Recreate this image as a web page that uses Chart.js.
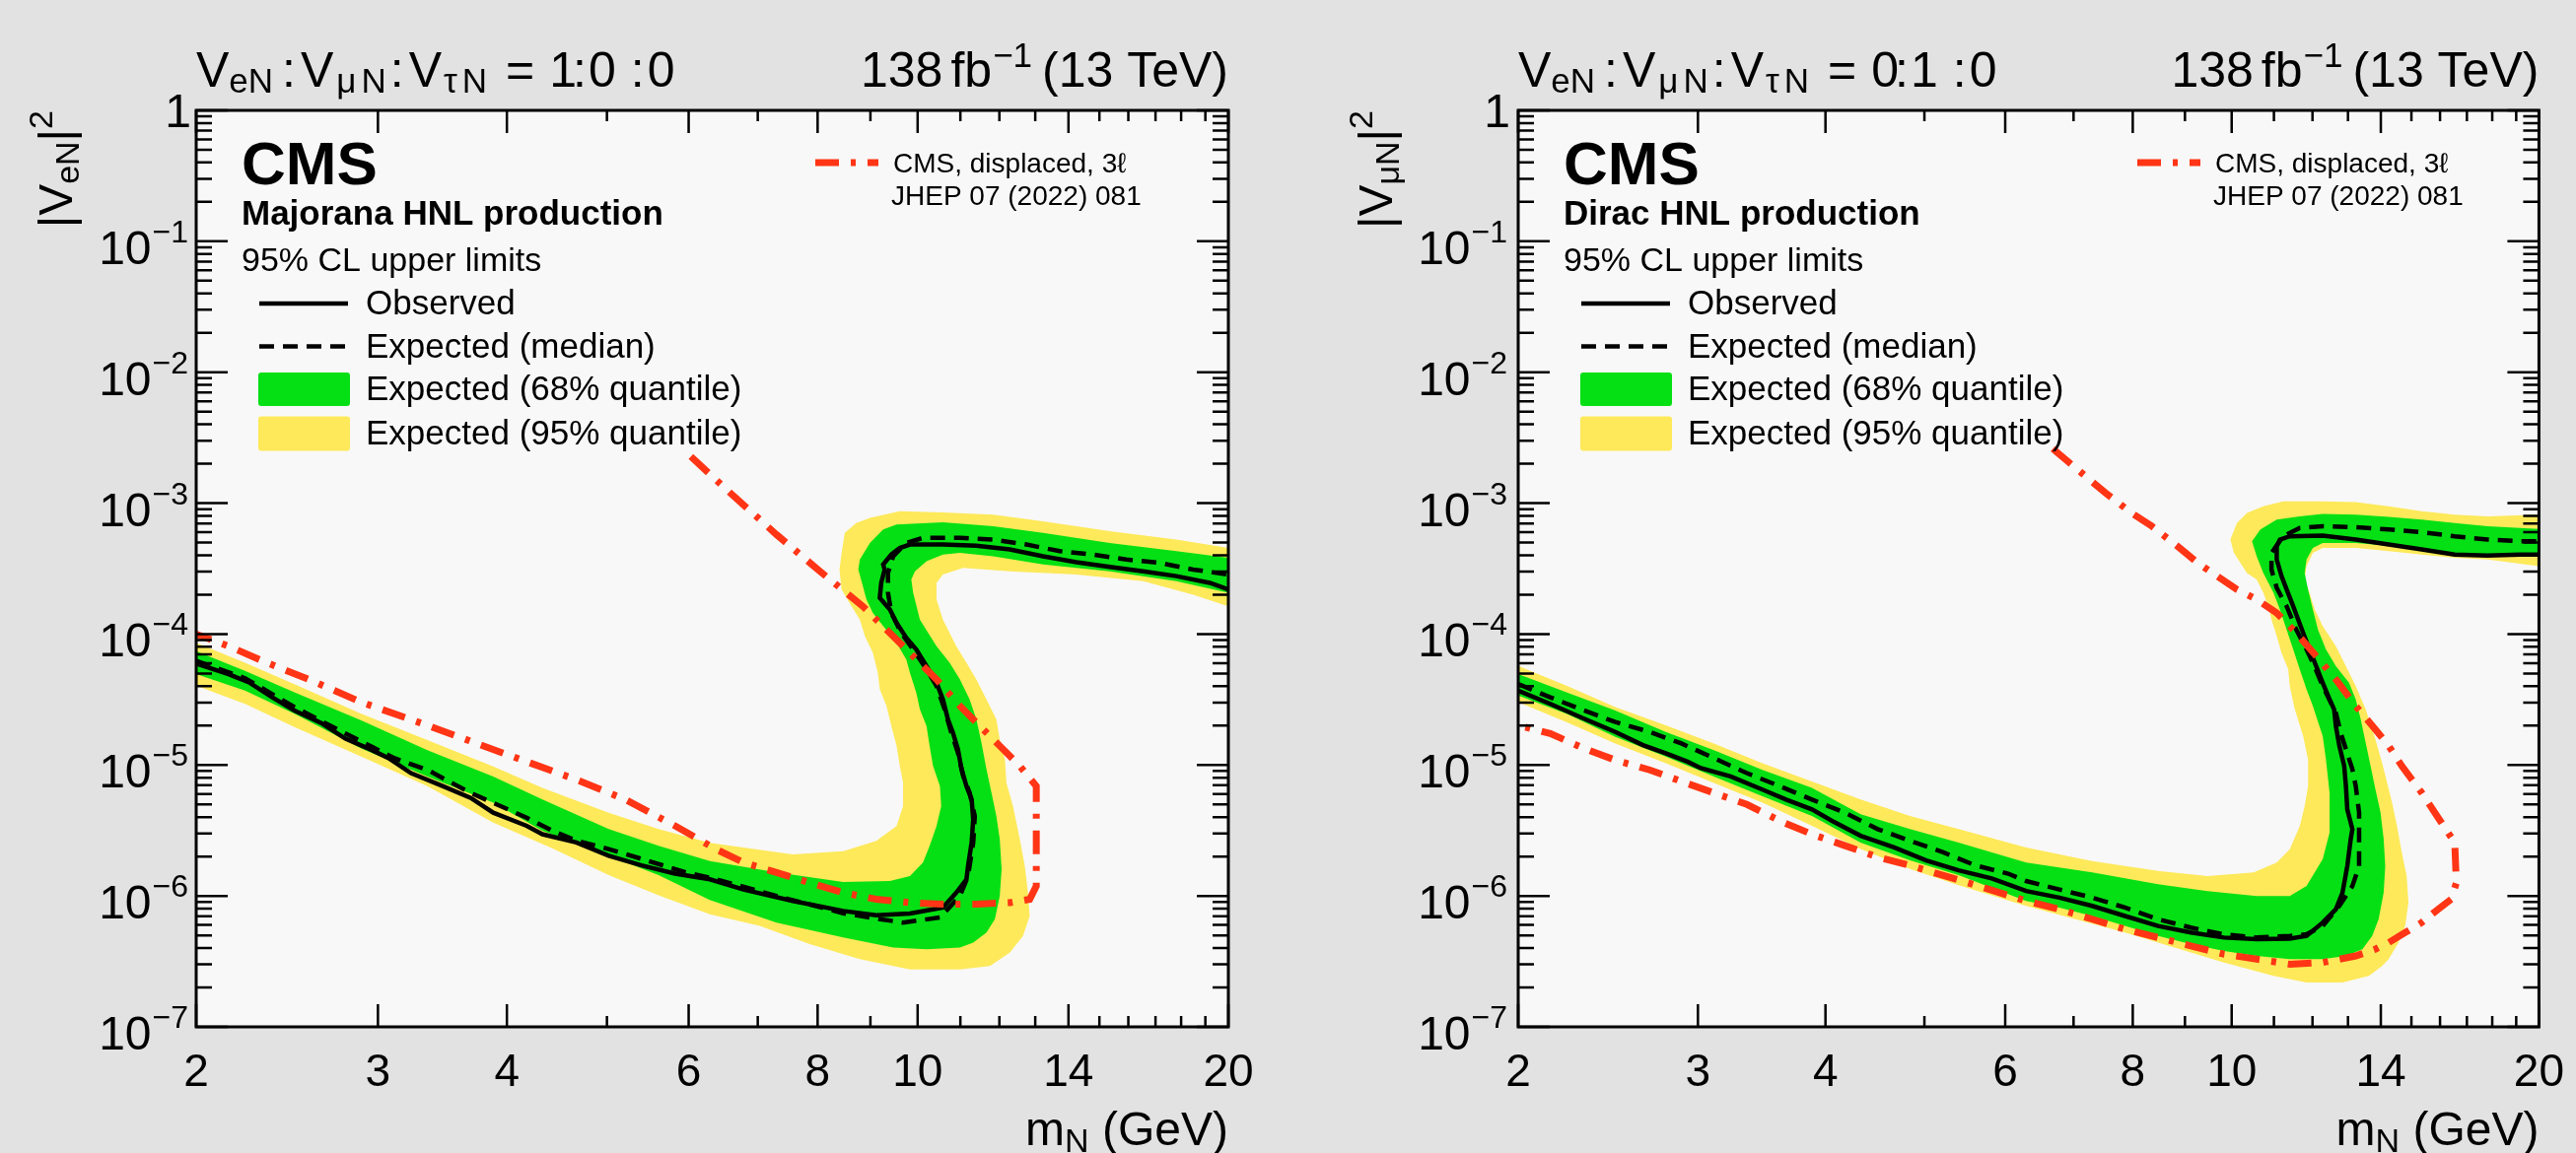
<!DOCTYPE html>
<html>
<head>
<meta charset="utf-8">
<title>HNL mixing limits</title>
<script src="https://cdn.jsdelivr.net/npm/chart.js@4.4.1/dist/chart.umd.min.js"></script>
<style>
  html, body { margin: 0; padding: 0; }
  body { width: 2613px; height: 1170px; background: #e2e2e2; overflow: hidden; position: relative; }
  canvas { position: absolute; top: 0; }
  #left { left: 0; }
  #right { left: 1306px; }
</style>
</head>
<body>
<canvas id="left" width="1306" height="1170"></canvas>
<canvas id="right" width="1307" height="1170"></canvas>
<script>
// axis ticks
const xMajorTicks = [2, 3, 4, 6, 8, 10, 14, 20]
const xMinorTicks = [5, 7, 9, 11, 12, 13, 15, 16, 17, 18, 19]
const yDecades = [0, -1, -2, -3, -4, -5, -6, -7]

// ---- left: VeN:VmuN:VtauN = 1:0:0, Majorana ----
const majObsMass = [2.00, 2.15, 2.25, 2.37, 2.49, 2.65, 2.79, 2.96, 3.07, 3.23, 3.47, 3.69, 3.88, 4.18, 4.33, 4.67, 5.02, 5.40, 5.82, 6.29, 6.78, 7.57, 8.47, 9.12, 9.83, 10.58, 10.90, 11.15, 11.19, 11.28, 11.32, 11.28, 11.15, 11.03, 10.94, 10.82, 10.70, 10.58, 10.43, 10.20, 9.97, 9.75, 9.54, 9.40, 9.19, 9.22, 9.29, 9.26, 9.43, 9.61, 9.83, 10.58, 11.40, 12.28, 13.23, 14.25, 15.35, 16.54, 17.81, 19.19, 20.0]
const majObsCoupling = [5.94e-5, 4.94e-5, 4.28e-5, 3.29e-5, 2.61e-5, 2.07e-5, 1.59e-5, 1.30e-5, 1.13e-5, 8.67e-6, 6.88e-6, 5.61e-6, 4.32e-6, 3.43e-6, 2.96e-6, 2.56e-6, 2.03e-6, 1.71e-6, 1.48e-6, 1.34e-6, 1.12e-6, 9.16e-7, 7.68e-7, 7.11e-7, 7.33e-7, 8.15e-7, 1.06e-6, 1.34e-6, 1.69e-6, 2.55e-6, 3.85e-6, 5.47e-6, 6.90e-6, 9.27e-6, 1.32e-5, 1.76e-5, 2.23e-5, 3.17e-5, 4.25e-5, 5.69e-5, 7.63e-5, 9.36e-5, 1.22e-4, 1.54e-4, 1.89e-4, 2.46e-4, 3.11e-4, 3.40e-4, 4.05e-4, 4.55e-4, 4.83e-4, 4.83e-4, 4.74e-4, 4.43e-4, 3.93e-4, 3.54e-4, 3.26e-4, 3.02e-4, 2.77e-4, 2.46e-4, 2.19e-4]

const majExpMass = [2.00, 2.23, 2.49, 2.79, 2.96, 3.11, 3.35, 3.69, 4.18, 4.43, 4.67, 5.02, 5.40, 5.95, 6.29, 7.30, 8.47, 9.12, 9.68, 10.51, 10.99, 11.19, 11.32, 11.36, 11.23, 11.07, 10.94, 10.78, 10.62, 10.43, 10.20, 9.90, 9.64, 9.43, 9.36, 9.36, 9.47, 9.75, 10.12, 10.99, 11.84, 12.75, 13.73, 14.79, 15.93, 17.16, 18.49, 20.0]
const majExpCoupling = [6.23e-5, 4.6e-5, 2.77e-5, 1.74e-5, 1.38e-5, 1.13e-5, 9.18e-6, 6.12e-6, 3.96e-6, 3.14e-6, 2.64e-6, 2.28e-6, 1.92e-6, 1.52e-6, 1.38e-6, 1.00e-6, 7.38e-7, 6.71e-7, 6.26e-7, 6.84e-7, 1.00e-6, 1.42e-6, 2.55e-6, 4.07e-6, 6.15e-6, 8.24e-6, 1.24e-5, 1.76e-5, 2.66e-5, 4.01e-5, 5.37e-5, 7.63e-5, 1.02e-4, 1.45e-4, 2.07e-4, 2.93e-4, 3.93e-4, 4.97e-4, 5.43e-4, 5.43e-4, 5.27e-4, 4.83e-4, 4.30e-4, 4.05e-4, 3.71e-4, 3.50e-4, 3.11e-4, 2.85e-4]

// bands: one edge from m=2 to m=20, then the other edge back
const maj68Mass = [2.00, 2.23, 2.49, 2.89, 3.35, 3.88, 4.33, 5.02, 5.61, 6.29, 7.30, 8.47, 9.40, 9.83, 10.12, 10.27, 10.43, 10.54, 10.51, 10.35, 10.27, 10.20, 10.05, 9.97, 9.83, 9.75, 9.54, 9.26, 9.05, 8.92, 8.85, 8.76, 8.79, 8.99, 9.26, 9.54, 10.58, 11.84, 13.23, 15.35, 17.81, 20.0,
  20.0, 17.81, 15.35, 13.23, 11.84, 10.99, 10.58, 10.20, 9.94, 9.86, 9.90, 10.05, 10.43, 10.74, 10.99, 11.23, 11.40, 11.53, 11.66, 11.79, 11.92, 12.01, 12.06, 12.01, 11.88, 11.66, 11.32, 10.99, 10.20, 9.47, 8.47, 7.30, 6.29, 5.61, 5.02, 4.33, 3.88, 3.35, 2.89, 2.49, 2.23, 2.00]
const maj68Coupling = [7.41e-5, 5.24e-5, 3.59e-5, 2.19e-5, 1.30e-5, 8.18e-6, 5.45e-6, 3.24e-6, 2.42e-6, 1.85e-6, 1.51e-6, 1.28e-6, 1.30e-6, 1.42e-6, 1.80e-6, 2.41e-6, 3.42e-6, 4.86e-6, 6.90e-6, 9.82e-6, 1.40e-5, 1.98e-5, 2.66e-5, 3.56e-5, 5.06e-5, 6.40e-5, 8.57e-5, 1.15e-4, 1.45e-4, 1.84e-4, 2.32e-4, 3.11e-4, 3.71e-4, 4.97e-4, 6.29e-4, 6.86e-4, 7.15e-4, 6.67e-4, 5.93e-4, 4.97e-4, 4.30e-4, 3.82e-4,
  2.07e-4, 2.54e-4, 3.02e-4, 3.40e-4, 3.93e-4, 4.17e-4, 4.05e-4, 3.60e-4, 3.02e-4, 2.61e-4, 2.07e-4, 1.29e-4, 8.09e-5, 6.04e-5, 4.50e-5, 3.17e-5, 2.23e-5, 1.48e-5, 9.27e-6, 6.15e-6, 4.07e-6, 2.71e-6, 1.60e-6, 1.00e-6, 6.64e-7, 5.25e-7, 4.40e-7, 4.04e-7, 3.92e-7, 4.04e-7, 4.81e-7, 6.26e-7, 9.3e-7, 1.44e-6, 2.03e-6, 3.14e-6, 5.15e-6, 8.18e-6, 1.34e-5, 2.46e-5, 3.70e-5, 4.94e-5]

const maj95Mass = [2.00, 2.23, 2.49, 2.89, 3.35, 3.88, 4.33, 5.02, 5.61, 6.29, 7.57, 8.47, 9.12, 9.54, 9.68, 9.68, 9.61, 9.54, 9.43, 9.33, 9.19, 9.15, 9.05, 8.89, 8.79, 8.59, 8.44, 8.40, 8.44, 8.50, 8.72, 8.99, 9.61, 10.58, 11.84, 13.23, 15.35, 17.81, 20.0,
  20.0, 18.49, 16.54, 14.25, 12.28, 11.07, 10.58, 10.43, 10.43, 10.58, 10.90, 11.15, 11.40, 11.66, 11.92, 12.01, 12.15, 12.19, 12.37, 12.56, 12.70, 12.79, 12.84, 12.65, 12.28, 11.75, 10.99, 9.83, 8.79, 7.86, 7.03, 6.29, 5.61, 5.02, 4.43, 3.88, 3.35, 2.89, 2.49, 2.23, 2.00]
const maj95Coupling = [8.57e-5, 6.05e-5, 4.15e-5, 2.46e-5, 1.55e-5, 9.73e-6, 6.68e-6, 4.32e-6, 3.24e-6, 2.55e-6, 2.08e-6, 2.20e-6, 2.63e-6, 3.42e-6, 4.86e-6, 7.33e-6, 9.82e-6, 1.40e-5, 1.98e-5, 2.82e-5, 3.78e-5, 5.06e-5, 7.19e-5, 9.64e-5, 1.29e-4, 1.73e-4, 2.19e-4, 3.11e-4, 4.17e-4, 5.93e-4, 7.06e-4, 7.71e-4, 8.67e-4, 8.51e-4, 8.18e-4, 7.28e-4, 6.10e-4, 5.27e-4, 4.55e-4,
  1.63e-4, 2.00e-4, 2.54e-4, 2.85e-4, 3.02e-4, 3.21e-4, 2.85e-4, 2.46e-4, 1.84e-4, 1.29e-4, 8.09e-5, 6.04e-5, 4.50e-5, 3.17e-5, 2.23e-5, 1.57e-5, 1.10e-5, 7.33e-6, 4.86e-6, 2.71e-6, 1.69e-6, 1.06e-6, 7.03e-7, 4.95e-7, 3.69e-7, 2.92e-7, 2.75e-7, 2.75e-7, 3.29e-7, 4.28e-7, 5.90e-7, 7.24e-7, 1.01e-6, 1.44e-6, 2.3e-6, 3.63e-6, 6.88e-6, 1.16e-5, 1.95e-5, 2.93e-5, 4.03e-5]

const majRefMass = [6.03, 6.58, 7.30, 8.04, 8.85, 9.33, 9.83, 10.43, 10.99, 11.49, 12.01, 12.56, 13.03, 13.03, 12.84, 12.28, 11.40, 10.58, 9.83, 9.12, 8.47, 7.86, 7.30, 6.78, 6.38, 5.82, 5.21, 4.67, 4.18, 3.74, 3.35, 2.89, 2.59, 2.32, 2.15, 2.00]
const majRefCoupling = [2.27e-3, 1.20e-3, 5.75e-4, 3.02e-4, 1.63e-4, 1.08e-4, 7.19e-5, 4.50e-5, 2.82e-5, 1.98e-5, 1.40e-5, 9.82e-6, 6.90e-6, 1.19e-6, 9.43e-7, 8.89e-7, 8.64e-7, 8.64e-7, 8.89e-7, 9.43e-7, 1.06e-6, 1.26e-6, 1.51e-6, 1.80e-6, 2.27e-6, 3.43e-6, 5.45e-6, 7.73e-6, 1.06e-5, 1.46e-5, 2.01e-5, 3.02e-5, 4.40e-5, 6.23e-5, 8.09e-5, 1.00e-4]

// ---- right: VeN:VmuN:VtauN = 0:1:0, Dirac ----
const dirObsMass = [2.00, 2.15, 2.32, 2.49, 2.65, 2.79, 2.93, 3.02, 3.23, 3.47, 3.66, 3.88, 4.06, 4.33, 4.67, 5.02, 5.40, 5.82, 6.29, 6.78, 7.30, 7.86, 8.47, 9.12, 9.83, 10.58, 11.40, 11.84, 12.28, 12.65, 12.84, 12.98, 13.08, 13.13, 12.98, 12.94, 12.89, 12.75, 12.65, 12.60, 12.47, 12.28, 12.10, 11.92, 11.75, 11.49, 11.32, 11.19, 11.07, 11.07, 11.15, 11.40, 12.28, 13.23, 14.25, 15.35, 16.54, 17.81, 19.19, 20.0]
const dirObsCoupling = [3.70e-5, 2.93e-5, 2.26e-5, 1.79e-5, 1.42e-5, 1.23e-5, 1.06e-5, 9.46e-6, 8.18e-6, 6.49e-6, 5.45e-6, 4.58e-6, 3.74e-6, 2.88e-6, 2.35e-6, 1.87e-6, 1.57e-6, 1.36e-6, 1.09e-6, 9.71e-7, 8.39e-7, 7.03e-7, 5.90e-7, 5.25e-7, 4.81e-7, 4.67e-7, 4.72e-7, 4.95e-7, 6.26e-7, 7.91e-7, 1.06e-6, 1.69e-6, 2.71e-6, 3.23e-6, 4.58e-6, 6.90e-6, 9.82e-6, 1.40e-5, 1.98e-5, 2.66e-5, 3.17e-5, 4.25e-5, 5.69e-5, 7.63e-5, 1.02e-4, 1.63e-4, 2.19e-4, 2.77e-4, 3.71e-4, 4.69e-4, 5.27e-4, 5.58e-4, 5.65e-4, 5.27e-4, 4.83e-4, 4.43e-4, 4.05e-4, 3.98e-4, 4.05e-4, 4.05e-4]

const dirExpMass = [2.00, 2.15, 2.32, 2.49, 2.69, 2.89, 3.11, 3.35, 3.61, 3.88, 4.18, 4.50, 4.84, 5.21, 5.61, 6.04, 6.29, 6.78, 7.30, 7.86, 8.47, 9.12, 9.83, 10.58, 11.40, 11.84, 12.28, 12.75, 13.13, 13.33, 13.33, 13.33, 13.23, 13.13, 12.94, 12.79, 12.65, 12.28, 12.01, 11.84, 11.57, 11.32, 11.07, 10.94, 10.94, 11.23, 11.66, 12.28, 13.23, 14.25, 15.35, 16.54, 17.81, 19.19, 20.0]
const dirExpCoupling = [4.15e-5, 3.29e-5, 2.61e-5, 2.13e-5, 1.79e-5, 1.46e-5, 1.13e-5, 8.67e-6, 6.88e-6, 5.45e-6, 4.32e-6, 3.24e-6, 2.64e-6, 2.16e-6, 1.71e-6, 1.48e-6, 1.30e-6, 1.12e-6, 9.71e-7, 8.15e-7, 6.64e-7, 5.73e-7, 5.09e-7, 4.81e-7, 4.95e-7, 5.09e-7, 5.90e-7, 8.39e-7, 1.19e-6, 1.69e-6, 2.55e-6, 4.33e-6, 6.90e-6, 9.27e-6, 1.32e-5, 1.76e-5, 2.51e-5, 4.01e-5, 6.04e-5, 7.63e-5, 1.08e-4, 1.63e-4, 2.25e-4, 3.11e-4, 4.17e-4, 5.58e-4, 6.47e-4, 6.67e-4, 6.55e-4, 6.29e-4, 6.00e-4, 5.58e-4, 5.27e-4, 5.12e-4, 5.12e-4]

const dir68Mass = [2.00, 2.23, 2.49, 2.79, 3.11, 3.47, 3.88, 4.33, 4.84, 5.40, 6.29, 7.30, 8.47, 9.47, 10.58, 11.40, 11.84, 12.28, 12.47, 12.47, 12.37, 12.28, 12.01, 11.84, 11.66, 11.49, 11.32, 11.15, 10.99, 10.74, 10.58, 10.47, 10.67, 11.07, 11.66, 12.28, 13.23, 14.25, 15.35, 16.54, 17.81, 20.0,
  20.0, 17.81, 16.54, 15.35, 14.25, 13.23, 12.28, 12.01, 11.84, 11.79, 11.88, 12.01, 12.15, 12.37, 12.65, 13.03, 13.23, 13.38, 13.53, 13.68, 13.83, 13.99, 14.09, 14.14, 14.09, 13.93, 13.73, 13.43, 12.94, 12.28, 11.40, 10.58, 9.83, 9.12, 8.47, 7.86, 7.30, 6.78, 6.29, 5.40, 4.84, 4.33, 3.88, 3.47, 3.11, 2.79, 2.49, 2.23, 2.00]
const dir68Coupling = [4.94e-5, 3.59e-5, 2.61e-5, 1.79e-5, 1.30e-5, 9.18e-6, 6.68e-6, 4.20e-6, 3.24e-6, 2.56e-6, 1.80e-6, 1.51e-6, 1.23e-6, 1.09e-6, 1.00e-6, 1.00e-6, 1.19e-6, 1.91e-6, 3.04e-6, 6.15e-6, 1.10e-5, 1.66e-5, 2.82e-5, 3.78e-5, 5.37e-5, 7.63e-5, 1.08e-4, 1.54e-4, 2.07e-4, 2.93e-4, 3.93e-4, 5.12e-4, 6.29e-4, 7.48e-4, 7.94e-4, 8.28e-4, 8.18e-4, 7.85e-4, 7.48e-4, 7.06e-4, 6.67e-4, 6.35e-4,
  3.93e-4, 3.93e-4, 4.05e-4, 4.43e-4, 4.74e-4, 4.97e-4, 4.97e-4, 4.55e-4, 3.71e-4, 2.93e-4, 2.19e-4, 1.54e-4, 1.08e-4, 7.63e-5, 5.69e-5, 4.25e-5, 3.17e-5, 2.23e-5, 1.48e-5, 9.82e-6, 6.52e-6, 4.33e-6, 2.71e-6, 1.69e-6, 1.06e-6, 6.64e-7, 4.95e-7, 3.92e-7, 3.48e-7, 3.29e-7, 3.29e-7, 3.48e-7, 3.80e-7, 4.28e-7, 4.95e-7, 5.90e-7, 7.03e-7, 8.15e-7, 9.16e-7, 1.44e-6, 1.87e-6, 2.56e-6, 4.08e-6, 5.78e-6, 8.18e-6, 1.16e-5, 1.64e-5, 2.46e-5, 3.39e-5]

const dir95Mass = [2.00, 2.23, 2.49, 2.79, 3.11, 3.47, 3.88, 4.33, 4.84, 5.40, 6.29, 7.30, 8.47, 9.47, 10.51, 11.07, 11.40, 11.66, 11.79, 11.88, 11.88, 11.75, 11.53, 11.40, 11.36, 11.19, 11.07, 10.94, 10.86, 10.74, 10.58, 10.35, 10.20, 10.05, 9.97, 10.12, 10.35, 10.74, 11.23, 12.28, 13.23, 14.25, 15.35, 16.54, 17.81, 20.0,
  20.0, 17.81, 16.54, 15.35, 14.25, 13.23, 12.28, 12.01, 11.84, 11.79, 11.92, 12.06, 12.28, 12.65, 12.94, 13.23, 13.53, 13.83, 14.04, 14.20, 14.36, 14.52, 14.68, 14.84, 14.90, 14.79, 14.57, 14.25, 14.04, 13.63, 12.84, 11.84, 10.99, 9.83, 8.79, 7.86, 7.03, 6.29, 5.40, 4.84, 4.33, 3.88, 3.47, 3.11, 2.79, 2.49, 2.23, 2.00]
const dir95Coupling = [5.72e-5, 4.03e-5, 2.77e-5, 2.01e-5, 1.46e-5, 1.03e-5, 7.50e-6, 5.45e-6, 4.08e-6, 3.24e-6, 2.34e-6, 1.85e-6, 1.55e-6, 1.42e-6, 1.51e-6, 1.80e-6, 2.27e-6, 3.42e-6, 4.86e-6, 6.90e-6, 1.10e-5, 1.66e-5, 2.66e-5, 4.01e-5, 5.37e-5, 7.19e-5, 9.64e-5, 1.29e-4, 1.63e-4, 2.07e-4, 2.61e-4, 2.93e-4, 3.50e-4, 4.17e-4, 5.27e-4, 7.06e-4, 8.41e-4, 9.47e-4, 1.03e-3, 1.03e-3, 1.02e-3, 9.47e-4, 8.67e-4, 8.18e-4, 7.94e-4, 8.18e-4,
  3.30e-4, 3.71e-4, 3.82e-4, 4.05e-4, 4.30e-4, 4.55e-4, 4.55e-4, 4.17e-4, 3.30e-4, 2.61e-4, 2.07e-4, 1.54e-4, 1.15e-4, 8.09e-5, 5.69e-5, 4.01e-5, 2.66e-5, 1.57e-5, 1.04e-5, 7.33e-6, 5.15e-6, 3.42e-6, 2.14e-6, 1.42e-6, 8.89e-7, 5.90e-7, 4.40e-7, 3.29e-7, 2.92e-7, 2.45e-7, 2.18e-7, 2.18e-7, 2.45e-7, 3.10e-7, 4.04e-7, 5.25e-7, 6.64e-7, 8.39e-7, 1.21e-6, 1.61e-6, 2.28e-6, 3.43e-6, 5.15e-6, 7.29e-6, 1.03e-5, 1.46e-5, 2.13e-5, 3.02e-5]

const dirRefMass = [6.68, 7.52, 7.98, 8.35, 8.85, 9.26, 9.68, 10.12, 10.58, 11.07, 11.57, 12.10, 12.65, 13.23, 13.83, 14.25, 14.68, 15.35, 16.05, 16.54, 16.60, 16.41, 15.93, 15.35, 14.79, 14.25, 13.83, 13.23, 12.28, 11.40, 10.58, 9.83, 9.12, 8.47, 7.86, 7.30, 6.78, 6.29, 6.04, 5.61, 5.21, 4.84, 4.50, 4.18, 3.88, 3.61, 3.35, 3.11, 2.89, 2.69, 2.49, 2.32, 2.15, 2.00]
const dirRefCoupling = [2.60e-3, 1.20e-3, 8.41e-4, 6.67e-4, 4.69e-4, 3.50e-4, 2.77e-4, 2.19e-4, 1.84e-4, 1.45e-4, 1.02e-4, 6.79e-5, 4.50e-5, 2.82e-5, 1.87e-5, 1.40e-5, 9.82e-6, 6.15e-6, 3.63e-6, 2.55e-6, 1.26e-6, 9.43e-7, 7.91e-7, 6.26e-7, 5.25e-7, 4.40e-7, 3.92e-7, 3.48e-7, 3.10e-7, 3.01e-7, 3.29e-7, 3.59e-7, 4.15e-7, 4.81e-7, 5.56e-7, 6.64e-7, 7.91e-7, 9.16e-7, 1.01e-6, 1.21e-6, 1.44e-6, 1.71e-6, 1.98e-6, 2.42e-6, 2.96e-6, 3.74e-6, 5.00e-6, 6.12e-6, 7.50e-6, 9.18e-6, 1.09e-5, 1.34e-5, 1.74e-5, 2.01e-5]

// ---- styling ----
const FONT = '"Liberation Sans", Arial, Helvetica, sans-serif'
const RED = '#ff3515'
const GREEN = '#04e014'
const YELLOW = '#fde95a'
const RED_DASH = [24, 12, 5, 12]
const BLACK_DASH = [15, 9]

function pts(ms, vs) {
    return ms.map((m, i) => ({ x: m, y: vs[i] }))
}

// draws a row of text pieces: [text, size, dy, gapBefore, bold]
function rich(ctx, x, y, parts, align) {
    const fontOf = p => (p[4] ? 'bold ' : '') + p[1] + 'px ' + FONT
    let total = 0
    const widths = parts.map(p => {
        ctx.font = fontOf(p)
        const w = (p[3] || 0) + ctx.measureText(p[0]).width
        total += w
        return w
    })
    let cx = align === 'right' ? x - total : x
    ctx.textAlign = 'left'
    ctx.textBaseline = 'alphabetic'
    parts.forEach((p, i) => {
        ctx.font = fontOf(p)
        ctx.fillText(p[0], cx + (p[3] || 0), y + (p[2] || 0))
        cx += widths[i]
    })
}

function isDecade(v) {
    const l = Math.log10(v)
    return Math.abs(l - Math.round(l)) < 1e-6
}

const rootDecor = {
    id: 'rootDecor',
    beforeDraw(chart) {
        const { ctx, chartArea: a } = chart
        ctx.save()
        ctx.fillStyle = 'rgba(251,251,251,0.9)'
        ctx.fillRect(a.left, a.top, a.right - a.left, a.bottom - a.top)
        ctx.restore()
    },
    afterDraw(chart, args, o) {
        const { ctx, chartArea: a, scales: { x, y } } = chart
        const ds = chart.data.datasets
        const L = a.left
        ctx.save()
        ctx.strokeStyle = '#000'
        ctx.fillStyle = '#000'

        // tick marks on all four sides, pointing inward
        ctx.lineWidth = 2.5
        ctx.beginPath()
        x.ticks.forEach(t => {
            const px = x.getPixelForValue(t.value)
            const len = xMajorTicks.includes(t.value) ? 23 : 11
            ctx.moveTo(px, a.bottom); ctx.lineTo(px, a.bottom - len)
            ctx.moveTo(px, a.top); ctx.lineTo(px, a.top + len)
        })
        y.ticks.forEach(t => {
            const py = y.getPixelForValue(t.value)
            const len = isDecade(t.value) ? 32 : 16
            ctx.moveTo(L, py); ctx.lineTo(L + len, py)
            ctx.moveTo(a.right, py); ctx.lineTo(a.right - len, py)
        })
        ctx.stroke()
        ctx.lineWidth = 3
        ctx.strokeRect(L, a.top, a.right - L, a.bottom - a.top)

        // y tick labels 10^n
        yDecades.forEach(e => {
            const py = y.getPixelForValue(Math.pow(10, e))
            if (e === 0) {
                rich(ctx, L - o.labelGap + 3, py + 17, [['1', 48]], 'right')
            } else {
                rich(ctx, L - o.labelGap, py + 23, [['10', 48], ['\u2212' + (-e), 32, -22, 1]], 'right')
            }
        })

        // header line
        const r = o.ratio
        rich(ctx, L, 88, [['V', 50], ['eN', 35, 6], [':', 50, 0, 9], ['V', 50, 0, 5], ['\u03bc', 35, 6, 3], ['N', 35, 6, 5],
            [':', 50, 0, 4], ['V', 50, 0, 5], ['\u03c4', 35, 6, 2], ['N', 35, 6, 5],
            ['=', 50, 0, 19], [r[0], 50, 0, 15], [':', 50, 0, -4], [r[1], 50, 0, 2], [':', 50, 0, 15], [r[2], 50, 0, 3]])
        rich(ctx, a.right, 88, [['138', 50], ['fb', 50, 0, 8], ['\u22121', 35, -20, 1], ['(13 TeV)', 50, 0, 10]], 'right')

        // axis titles
        rich(ctx, a.right, 1162, [['m', 48], ['N', 34, 7], [' (GeV)', 48]], 'right')
        ctx.save()
        ctx.translate(L - o.yTitleOffset, a.top)
        ctx.rotate(-Math.PI / 2)
        rich(ctx, 0, 0, [['|V', 48], [o.ySub, 34, 7], ['|', 48], ['2', 34, -20]], 'right')
        ctx.restore()

        // labels inside the frame
        rich(ctx, L + 46, 187, [['CMS', 62, 0, 0, true]])
        rich(ctx, L + 46, 228, [[o.production, 35, 0, 0, true]])
        rich(ctx, L + 46, 275, [['95% CL upper limits', 34]])

        // legend
        const rows = [308, 351.5, 395, 439.5]
        ctx.lineWidth = 4.5
        ctx.beginPath(); ctx.moveTo(L + 64, rows[0]); ctx.lineTo(L + 154, rows[0]); ctx.stroke()
        ctx.setLineDash(BLACK_DASH)
        ctx.beginPath(); ctx.moveTo(L + 64, rows[1]); ctx.lineTo(L + 154, rows[1]); ctx.stroke()
        ctx.setLineDash([])
        ctx.fillStyle = GREEN
        ctx.beginPath(); ctx.roundRect(L + 63, rows[2] - 17, 93, 34, 3); ctx.fill()
        ctx.fillStyle = YELLOW
        ctx.beginPath(); ctx.roundRect(L + 63, rows[3] - 17, 93, 35, 3); ctx.fill()
        ctx.fillStyle = '#000'
        const names = [ds[1].label, ds[2].label, ds[3].label, ds[4].label]
        names.forEach((n, i) => rich(ctx, L + 172, rows[i] + 11, [[n, 35]]))

        ctx.strokeStyle = RED
        ctx.lineWidth = 7
        ctx.setLineDash(RED_DASH)
        ctx.beginPath(); ctx.moveTo(L + 628, 165); ctx.lineTo(L + 692, 165); ctx.stroke()
        ctx.setLineDash([])
        rich(ctx, L + 707, 175, [[ds[0].label, 28]])
        rich(ctx, L + 705, 208, [['JHEP 07 (2022) 081', 28]])
        ctx.restore()
    }
}

function makeChart(id, o) {
    const curve = (label, ms, vs, extra) => Object.assign({
        label: label, data: pts(ms, vs), showLine: true, pointRadius: 0, tension: 0, fill: false
    }, extra)
    const band = (label, ms, vs, color) => ({
        label: label, data: pts(ms, vs), showLine: true, pointRadius: 0, tension: 0,
        fill: 'shape', backgroundColor: color, borderColor: 'rgba(0,0,0,0)', borderWidth: 0
    })
    return new Chart(document.getElementById(id), {
        type: 'scatter',
        data: {
            datasets: [
                curve('CMS, displaced, 3\u2113', o.refMass, o.refCoupling, { borderColor: RED, borderWidth: 7, borderDash: RED_DASH }),
                curve('Observed', o.obsMass, o.obsCoupling, { borderColor: '#000', borderWidth: 4.5 }),
                curve('Expected (median)', o.expMass, o.expCoupling, { borderColor: '#000', borderWidth: 4.5, borderDash: BLACK_DASH }),
                band('Expected (68% quantile)', o.b68Mass, o.b68Coupling, GREEN),
                band('Expected (95% quantile)', o.b95Mass, o.b95Coupling, YELLOW)
            ]
        },
        options: {
            responsive: false,
            animation: false,
            events: [],
            layout: { padding: { left: 0, top: 112, right: o.padRight, bottom: 0 } },
            plugins: {
                legend: { display: false },
                tooltip: { enabled: false },
                rootDecor: o
            },
            scales: {
                x: {
                    type: 'logarithmic', min: 2, max: 20,
                    afterBuildTicks: s => {
                        s.ticks = xMajorTicks.concat(xMinorTicks).sort((p, q) => p - q).map(v => ({ value: v }))
                    },
                    afterFit: s => { s.height = 128 },
                    grid: { display: false },
                    border: { display: false },
                    ticks: {
                        autoSkip: false, maxRotation: 0, color: '#000', padding: 12,
                        font: { family: FONT, size: 46 },
                        callback: v => xMajorTicks.includes(v) ? String(v) : ''
                    }
                },
                y: {
                    type: 'logarithmic', min: 1e-7, max: 1,
                    afterBuildTicks: s => {
                        const t = []
                        yDecades.forEach(e => {
                            t.push({ value: Math.pow(10, e) })
                            if (e < 0) for (let k = 2; k <= 9; k++) t.push({ value: k * Math.pow(10, e) })
                        })
                        s.ticks = t.sort((p, q) => p.value - q.value)
                    },
                    afterFit: s => { s.width = o.yWidth },
                    grid: { display: false },
                    border: { display: false },
                    ticks: { display: false }
                }
            }
        },
        plugins: [rootDecor]
    })
}

makeChart('left', {
    obsMass: majObsMass, obsCoupling: majObsCoupling,
    expMass: majExpMass, expCoupling: majExpCoupling,
    b68Mass: maj68Mass, b68Coupling: maj68Coupling,
    b95Mass: maj95Mass, b95Coupling: maj95Coupling,
    refMass: majRefMass, refCoupling: majRefCoupling,
    yWidth: 199, padRight: 60, labelGap: 8, yTitleOffset: 126,
    ratio: ['1', '0', '0'], ySub: 'eN', production: 'Majorana HNL production'
})

makeChart('right', {
    obsMass: dirObsMass, obsCoupling: dirObsCoupling,
    expMass: dirExpMass, expCoupling: dirExpCoupling,
    b68Mass: dir68Mass, b68Coupling: dir68Coupling,
    b95Mass: dir95Mass, b95Coupling: dir95Coupling,
    refMass: dirRefMass, refCoupling: dirRefCoupling,
    yWidth: 234, padRight: 26, labelGap: 11, yTitleOffset: 128,
    ratio: ['0', '1', '0'], ySub: '\u03bcN', production: 'Dirac HNL production'
})
</script>
</body>
</html>
